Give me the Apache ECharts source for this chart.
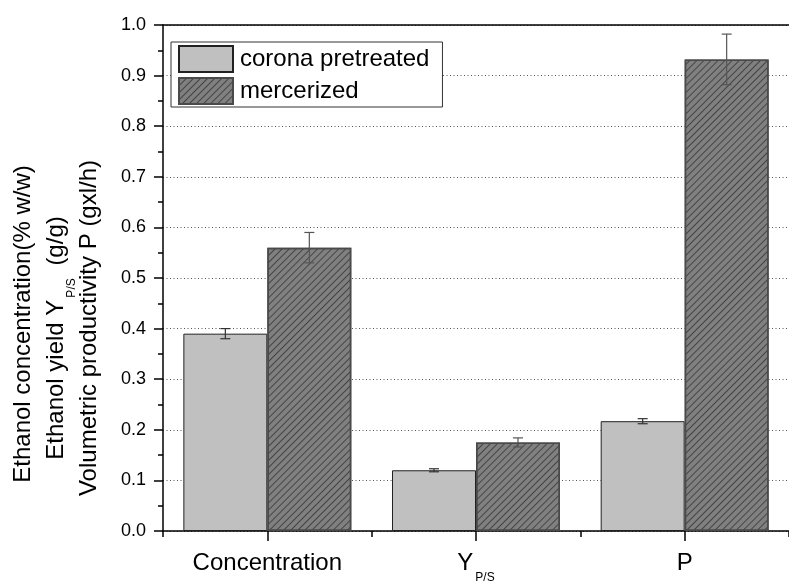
<!DOCTYPE html>
<html><head><meta charset="utf-8">
<script src="https://cdn.jsdelivr.net/npm/echarts@6/dist/echarts.min.js"></script>
<style>html,body{margin:0;padding:0;background:#fff}#c{width:789px;height:584px}</style>
</head><body><div id="c"></div>
<script>
// ---- data ----
const categories = ['Concentration', 'Y_P/S', 'P'];
const seriesNames = ['corona pretreated', 'mercerized'];
const coronaValues = [0.390, 0.120, 0.217];
const coronaErrors = [0.010, 0.003, 0.005];
const mercerizedValues = [0.560, 0.175, 0.932];
const mercerizedErrors = [0.030, 0.009, 0.050];
const yTickLabels = ['0.0','0.1','0.2','0.3','0.4','0.5','0.6','0.7','0.8','0.9','1.0'];
const yTitleLines = ['Ethanol concentration(% w/w)', 'Ethanol yield Y_P/S (g/g)', 'Volumetric productivity P (gxl/h)'];

// ---- style ----
const FONT = '"Liberation Sans", Arial, sans-serif';
const GAP = 0.195;
const hatch = { symbol: 'rect', symbolSize: 1, dashArrayX: [1, 0], dashArrayY: [1, 4], rotation: -Math.PI / 4, color: '#444' };

function subRich(big, small, padTop, padRight) {
  return {
    m: { fontSize: big, fontFamily: FONT, color: '#000', lineHeight: big + 4, verticalAlign: 'top' },
    s: { fontSize: small, fontFamily: FONT, color: '#000', lineHeight: small + 2, verticalAlign: 'top', padding: [padTop, padRight, 0, 2] }
  };
}
function withSub(t) {
  const k = t.indexOf('_');
  if (k < 0) return '{m|' + t + '}';
  const rest = t.slice(k + 1);
  const sp = rest.indexOf(' ');
  const sub = sp < 0 ? rest : rest.slice(0, sp);
  const after = sp < 0 ? '' : rest.slice(sp);
  return '{m|' + t.slice(0, k) + '}{s|' + sub + '}' + (after ? '{m|' + after + '}' : '');
}

function errorSeries(values, errors, side, color) {
  return {
    type: 'custom',
    name: 'err' + side,
    xAxisIndex: 0, yAxisIndex: 0,
    z: 10,
    silent: true,
    encode: { x: 0, y: [1, 2] },
    data: values.map((v, i) => [i, v - errors[i], v + errors[i]]),
    renderItem(params, api) {
      const band = api.size([1, 0])[0];
      const barW = band * (1 - GAP) / 2;
      const x = api.coord([api.value(0), 0])[0] + side * barW / 2;
      const lo = api.coord([api.value(0), api.value(1)])[1];
      const hi = api.coord([api.value(0), api.value(2)])[1];
      const cw = 5;
      const st = { stroke: color, lineWidth: 1.2 };
      return { type: 'group', children: [
        { type: 'line', shape: { x1: x, y1: lo, x2: x, y2: hi }, style: st },
        { type: 'line', shape: { x1: x - cw, y1: hi, x2: x + cw, y2: hi }, style: st },
        { type: 'line', shape: { x1: x - cw, y1: lo, x2: x + cw, y2: lo }, style: st }
      ] };
    }
  };
}

const chart = echarts.init(document.getElementById('c'), null, { renderer: 'canvas' });
const titleX = [25, 58, 91];
const titleY = [324, 338, 328];

chart.setOption({
  animation: false,
  backgroundColor: '#fff',
  grid: { left: 163, top: 25, width: 634, bottom: 51 },
  legend: {
    data: seriesNames,
    orient: 'vertical',
    left: 171, top: 42,
    itemWidth: 54, itemHeight: 26, itemGap: 4,
    padding: [3, 13, 2, 7],
    borderColor: '#333', borderWidth: 1, backgroundColor: '#fff',
    textStyle: { fontSize: 24, fontFamily: FONT, color: '#000', padding: [0, 0, 0, 2] },
    icon: 'rect',
    selectedMode: false
  },
  xAxis: [
    {
      type: 'category', data: categories, position: 'bottom',
      axisLine: { show: true, lineStyle: { color: '#000', width: 1.5 } },
      axisTick: { show: true, alignWithLabel: true, length: 10, lineStyle: { color: '#000', width: 1.5 } },
      axisLabel: { margin: 20, formatter: withSub, rich: subRich(24, 12, 21, 0) },
      splitLine: { show: false }
    },
    {
      type: 'category', data: categories, position: 'bottom',
      axisLine: { show: false },
      axisTick: { show: true, length: 6, lineStyle: { color: '#000', width: 1.5 } },
      axisLabel: { show: false },
      splitLine: { show: false }
    },
    {
      type: 'category', data: categories, position: 'top',
      axisLine: { show: true, lineStyle: { color: '#000', width: 1.5 } },
      axisTick: { show: false }, axisLabel: { show: false }, splitLine: { show: false }
    }
  ],
  yAxis: {
    type: 'value', min: 0, max: 1, interval: 0.1,
    axisLine: { show: true, lineStyle: { color: '#000', width: 1.5 } },
    axisTick: { show: true, length: 9, lineStyle: { color: '#000', width: 1.5 } },
    minorTick: { show: true, splitNumber: 2, length: 5, lineStyle: { color: '#000', width: 1.5 } },
    axisLabel: { fontSize: 18, fontFamily: FONT, color: '#000', margin: 17,
      formatter: v => yTickLabels[Math.round(v * 10)] },
    splitLine: { show: true, lineStyle: { color: '#555', type: [1, 2.5], width: 1 } }
  },
  graphic: yTitleLines.map((t, i) => ({
    type: 'text',
    x: titleX[i], y: titleY[i],
    rotation: Math.PI / 2,
    style: { text: withSub(t), rich: subRich(24, 12, 22, 6), align: 'center', verticalAlign: 'middle', fontSize: 24, fontFamily: FONT, fill: '#000' }
  })),
  series: [
    {
      type: 'bar', name: seriesNames[0], data: coronaValues,
      barGap: '0%', barCategoryGap: (GAP * 100) + '%',
      itemStyle: { color: '#c0c0c0', borderColor: '#222', borderWidth: 1 }
    },
    {
      type: 'bar', name: seriesNames[1], data: mercerizedValues,
      barGap: '0%', barCategoryGap: (GAP * 100) + '%',
      itemStyle: { color: '#808080', borderColor: '#4a4a4a', borderWidth: 1.5, decal: hatch }
    },
    errorSeries(coronaValues, coronaErrors, -1, '#333'),
    errorSeries(mercerizedValues, mercerizedErrors, 1, '#555')
  ]
});
</script></body></html>
